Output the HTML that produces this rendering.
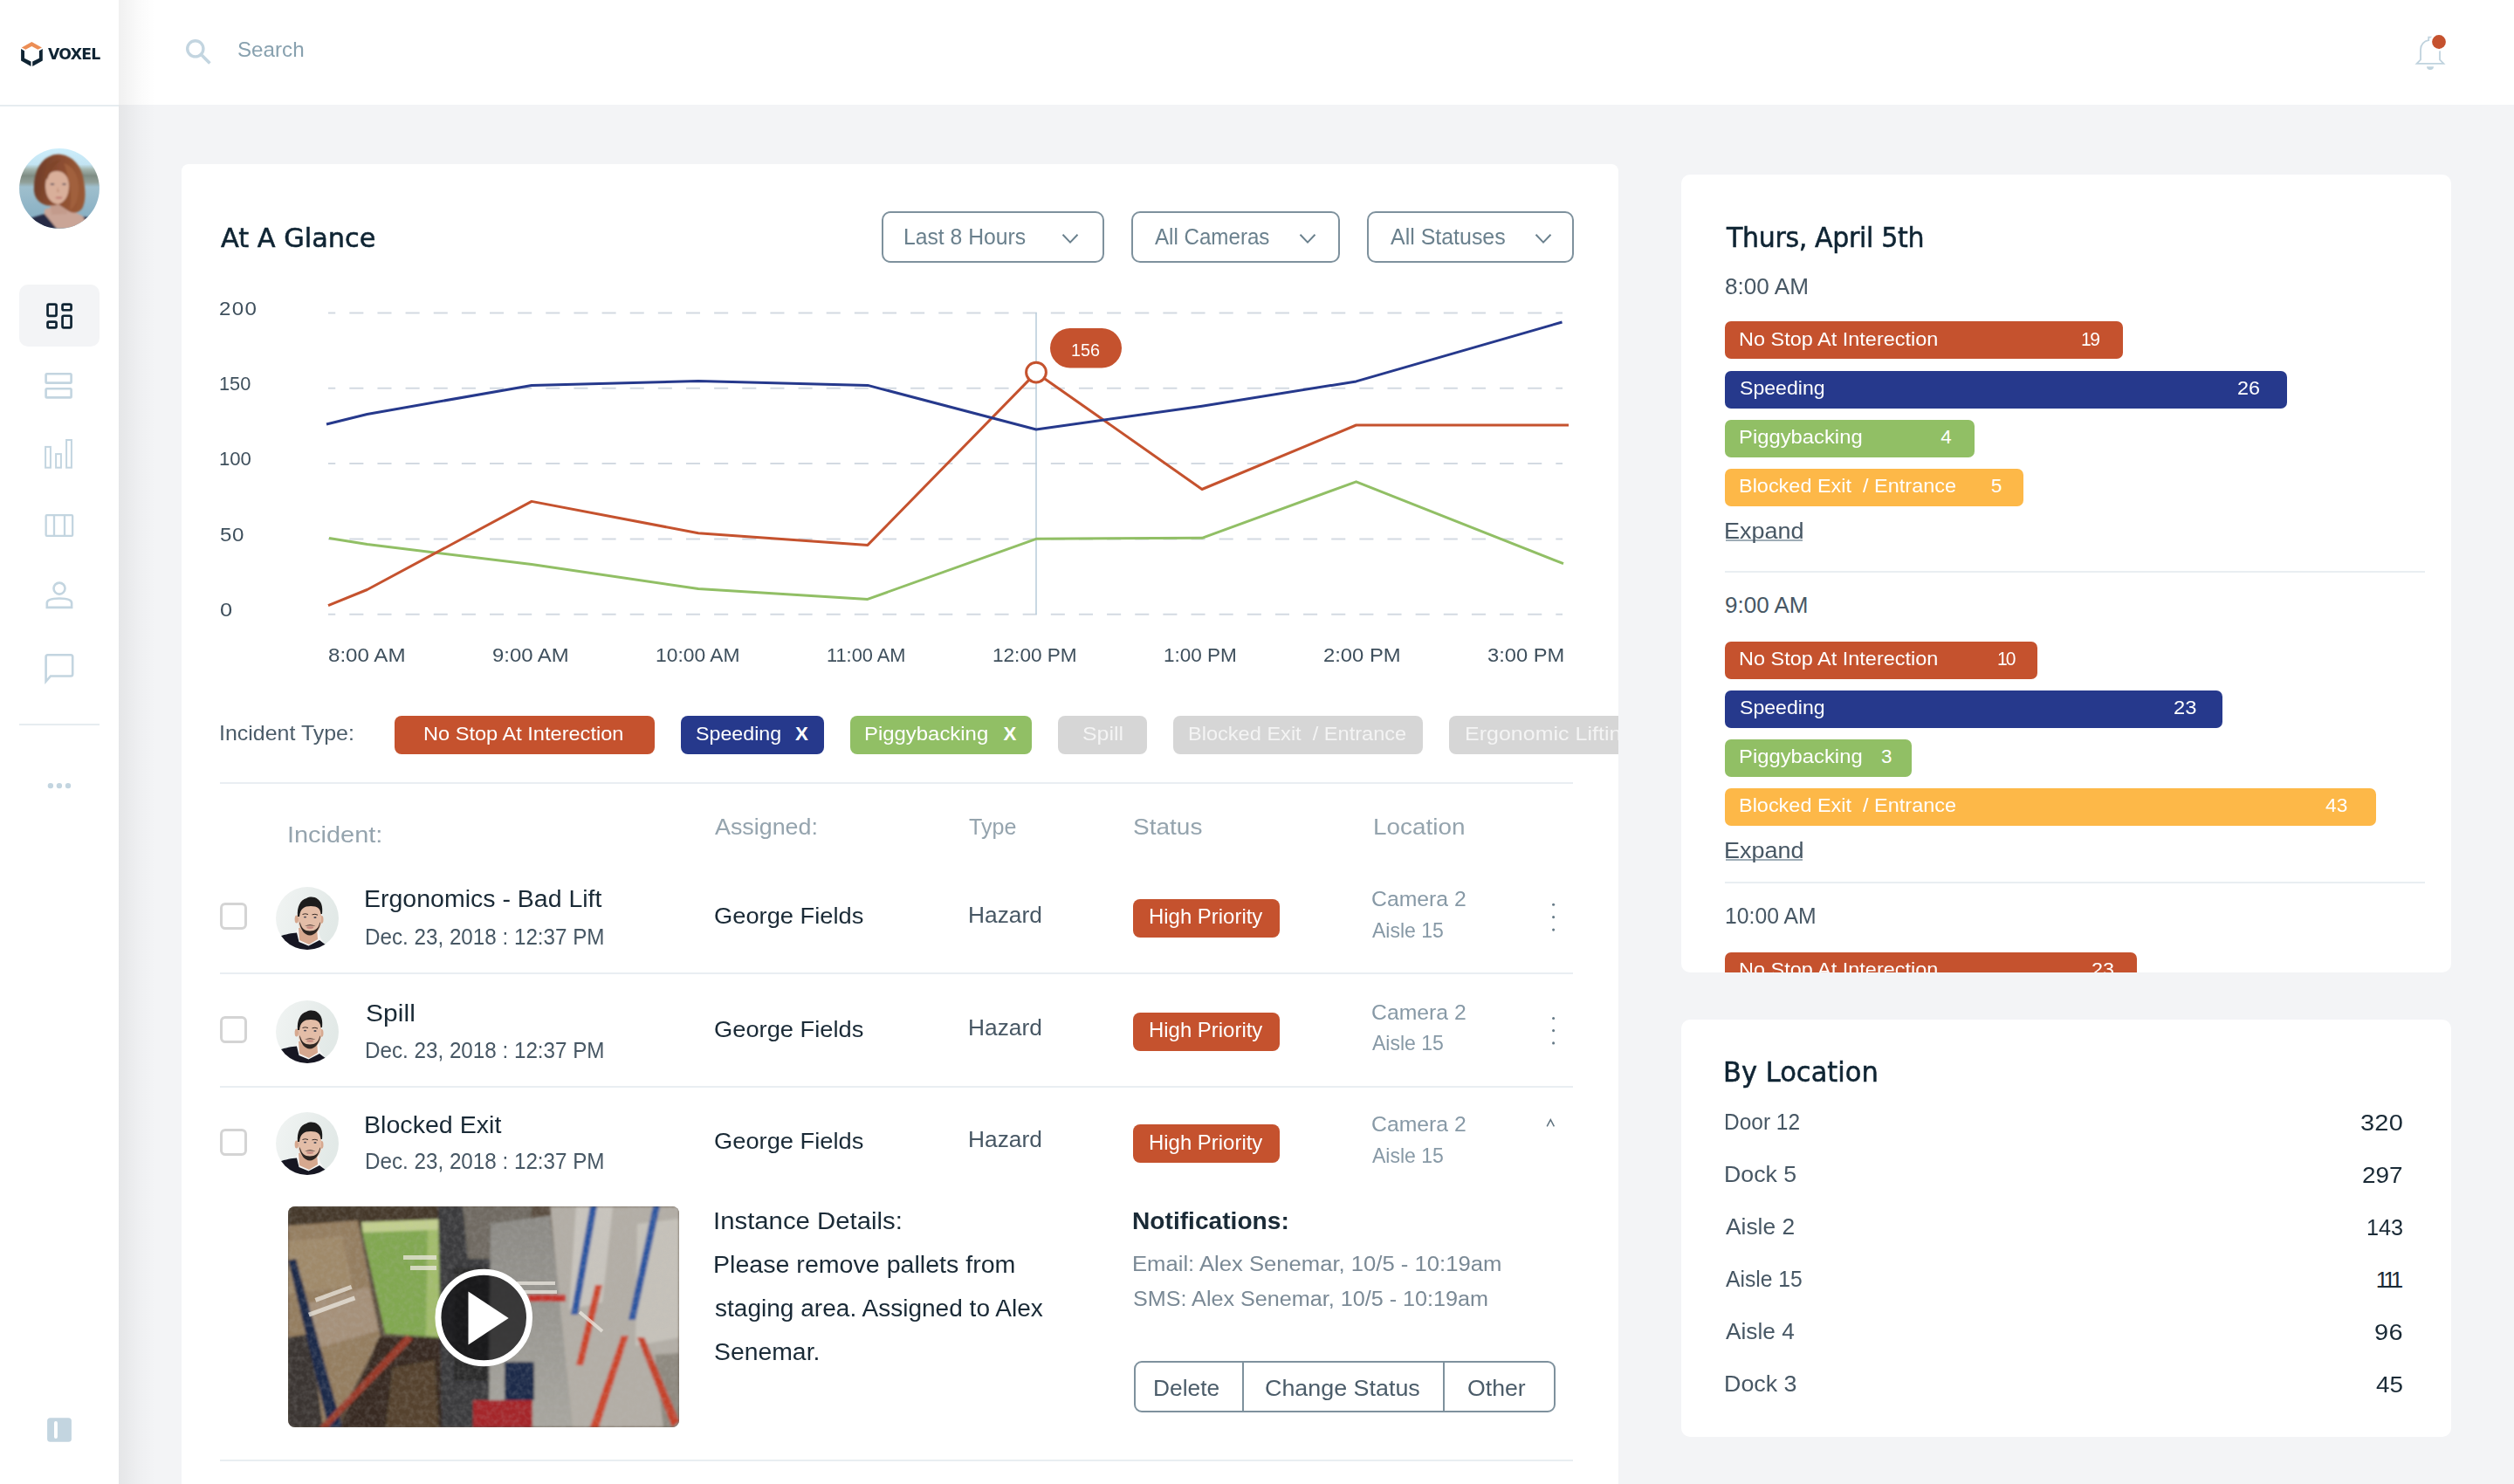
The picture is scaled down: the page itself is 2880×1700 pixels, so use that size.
<!DOCTYPE html>
<html><head><meta charset="utf-8"><title>Voxel Dashboard</title>
<style>
html,body{margin:0;padding:0}
body{width:2880px;height:1700px;overflow:hidden;background:#f3f4f6;position:relative;font-family:"Liberation Sans",Arial,sans-serif}
.a{position:absolute;box-sizing:border-box}
.t{position:absolute;white-space:pre;margin:0}
svg{position:absolute;overflow:visible}
.card{position:absolute;background:#fff}
.dd{position:absolute;box-sizing:border-box;border:2px solid #7e919d;border-radius:10px}
.chipbg{position:absolute;height:44px;top:820px;border-radius:8px}
.hr{position:absolute;height:2px;background:#e9eef2}
.cb{position:absolute;box-sizing:border-box;width:31px;height:31px;border:3px solid #d4d4d4;border-radius:6px;left:252px}
.badge{position:absolute;left:1298px;width:168px;height:44px;border-radius:8px;background:#c5522e}
.bar{position:absolute;left:1976px;height:43px;border-radius:7px}
.r{background:#c5522e}.b{background:#26398c}.g{background:#91bf65}.y{background:#fdb848}.gr{background:#d6d6d6}
</style></head><body>
<!-- header -->
<div class="a" style="left:136px;top:0;width:2744px;height:120px;background:#fff"></div>
<!-- cards -->
<div class="card" style="left:208px;top:188px;width:1646px;height:1600px;border-radius:8px"></div>
<div class="card" style="left:1926px;top:200px;width:882px;height:914px;border-radius:10px"></div>
<div class="card" style="left:1926px;top:1168px;width:882px;height:478px;border-radius:10px"></div>
<!-- sidebar -->
<div class="a" style="left:0;top:0;width:136px;height:1700px;background:#fff"></div>
<div class="a" style="left:136px;top:0;width:42px;height:1700px;background:linear-gradient(to right,rgba(0,0,0,0.06),rgba(0,0,0,0.018) 55%,rgba(0,0,0,0))"></div>
<div class="a" style="left:0;top:120px;width:136px;height:2px;background:#e6ecf0"></div>
<div class="a" style="left:22px;top:326px;width:92px;height:71px;border-radius:10px;background:#f3f4f6"></div>
<div class="a" style="left:22px;top:829px;width:92px;height:2px;background:#e6ecf0"></div>

<!-- dropdowns -->
<div class="dd" style="left:1010px;top:242px;width:255px;height:59px"></div>
<div class="dd" style="left:1296px;top:242px;width:239px;height:59px"></div>
<div class="dd" style="left:1566px;top:242px;width:237px;height:59px"></div>

<!-- chips -->
<div class="chipbg r" style="left:452px;width:298px"></div>
<div class="chipbg b" style="left:780px;width:164px"></div>
<div class="chipbg g" style="left:974px;width:208px"></div>
<div class="chipbg gr" style="left:1212px;width:102px"></div>
<div class="chipbg gr" style="left:1344px;width:286px"></div>
<div class="chipbg gr" style="left:1660px;width:262px"></div>
<div class="hr" style="left:252px;top:896px;width:1550px"></div>

<!-- table -->
<div class="cb" style="top:1034px"></div>
<div class="cb" style="top:1164px"></div>
<div class="cb" style="top:1293px"></div>
<div class="hr" style="left:252px;top:1114px;width:1550px"></div>
<div class="hr" style="left:252px;top:1244px;width:1550px"></div>
<div class="hr" style="left:252px;top:1672px;width:1550px"></div>
<div class="badge" style="top:1030px"></div>
<div class="badge" style="top:1160px"></div>
<div class="badge" style="top:1288px"></div>
<!-- button group -->
<div class="a" style="left:1299px;top:1559px;width:483px;height:59px;border:2px solid #7e919d;border-radius:9px"></div>
<div class="a" style="left:1423px;top:1559px;width:2px;height:59px;background:#7e919d"></div>
<div class="a" style="left:1653px;top:1559px;width:2px;height:59px;background:#7e919d"></div>

<!-- right card bars -->
<div class="bar r" style="top:368px;width:456px"></div>
<div class="bar b" style="top:424.5px;width:644px"></div>
<div class="bar g" style="top:480.5px;width:286px"></div>
<div class="bar y" style="top:536.5px;width:342px"></div>
<div class="a" style="left:1977px;top:618px;width:88px;height:1.5px;background:#9fadb7"></div>
<div class="hr" style="left:1976px;top:654px;width:802px"></div>
<div class="bar r" style="top:734.5px;width:358px"></div>
<div class="bar b" style="top:790.5px;width:570px"></div>
<div class="bar g" style="top:846.5px;width:214px"></div>
<div class="bar y" style="top:902.5px;width:746px"></div>
<div class="a" style="left:1977px;top:984px;width:88px;height:1.5px;background:#9fadb7"></div>
<div class="hr" style="left:1976px;top:1010px;width:802px"></div>
<div class="bar r" style="top:1091px;width:472px"></div>

<!-- avatars -->
<svg style="left:22px;top:170px" width="92" height="92" viewBox="0 0 92 92">
 <defs><clipPath id="ca"><circle cx="46" cy="46" r="45.9"/></clipPath>
 <linearGradient id="sky" x1="0" y1="0" x2="0" y2="1"><stop offset="0" stop-color="#cdeefb"/><stop offset="0.2" stop-color="#c3e4f3"/><stop offset="0.26" stop-color="#a3b5ae"/><stop offset="0.34" stop-color="#7f8c83"/><stop offset="0.42" stop-color="#909f98"/><stop offset="0.48" stop-color="#9fbfcd"/><stop offset="1" stop-color="#80aac0"/></linearGradient>
 <linearGradient id="hair" x1="0" y1="0" x2="1" y2="0.2"><stop offset="0" stop-color="#6a3a27"/><stop offset="0.5" stop-color="#8a4c30"/><stop offset="1" stop-color="#985836"/></linearGradient>
 <filter id="bl" x="-10%" y="-10%" width="120%" height="120%"><feGaussianBlur stdDeviation="1.2"/></filter></defs>
 <g clip-path="url(#ca)">
  <rect width="92" height="92" fill="url(#sky)"/>
  <g filter="url(#bl)">
  <path d="M28,92 L29,70 C35,68 41,66 47,67 C55,68 62,72 72,77 L84,92 Z" fill="#caa597"/>
  <path d="M35,60 L53,60 L55,75 L37,76Z" fill="#c39b8c"/>
  <path d="M28,64 C21,61 16,54 17,44 C17,30 22,16 33,10 C38,7 43,6 48,7 C61,9 70,19 73,32 C76,46 77,60 72,69 C68,74 62,75 57,72 L45,64 C39,66 33,66 28,64Z" fill="url(#hair)"/>
  <path d="M30,43 C30,32 35,26 43,26 C51,26 57,32 57,43 C57,55 51,63 44,64 C36,63 30,55 30,43Z" fill="#d9af9a"/>
  <path d="M51,17 C62,20 68,31 68,45 C68,58 64,67 58,71 C60,58 60,45 56,34 C55,27 53,21 51,17Z" fill="#a1603c"/>
  <path d="M29,28 C33,19 40,14 48,13 C42,18 36,23 32,36Z" fill="#7f4429"/>
  <path d="M6,82 L29,75 L43,92 L4,92 Z" fill="#272b45"/>
  <path d="M73,78 L84,80 L86,92 L81,92 Z" fill="#272b45"/>
  <ellipse cx="38" cy="41" rx="2.4" ry="1.1" fill="#4f4858"/><ellipse cx="51.5" cy="41" rx="2.2" ry="1.1" fill="#4f4858"/>
  <path d="M44,44 L43,50 L46,50Z" fill="#c4957f"/>
  <ellipse cx="45.5" cy="56.5" rx="4" ry="1.3" fill="#c28078"/>
  </g>
 </g>
</svg>
<svg style="left:316px;top:1016px" width="72" height="72" viewBox="0 0 72 72">
 <defs><clipPath id="cm1"><circle cx="36" cy="36" r="36"/></clipPath><filter id="mb1" x="-10%" y="-10%" width="120%" height="120%"><feGaussianBlur stdDeviation="0.55"/></filter>
 <linearGradient id="mg1" x1="0" y1="0" x2="1" y2="0.3"><stop offset="0" stop-color="#f1f4f3"/><stop offset="1" stop-color="#e2e9e7"/></linearGradient></defs>
 <g clip-path="url(#cm1)">
  <rect width="72" height="72" fill="url(#mg1)"/>
  <g filter="url(#mb1)">
  <path d="M21,53 L26,47 L48,47 L51,58 L56,66 L40,72 L22,68Z" fill="#f5f5f4"/>
  <path d="M26,47 L47,47 L48,60 L38,66 L27,61Z" fill="#d6a88f"/>
  <ellipse cx="23.8" cy="37" rx="2.2" ry="4.6" fill="#d6a88f"/>
  <ellipse cx="52.4" cy="37.5" rx="2.1" ry="4.4" fill="#d6a88f"/>
  <path d="M26,27 C26,20 31,18 39,18 C47,18 52,21 52,28 L52,40 C52,48 46,55 39,55 C32,55 26,48 26,40Z" fill="#e3bda7"/>
  <path d="M27,40 C28,49 33,55.5 39,55.5 C45,55.5 50,49 51.2,40 L50,42 C49,47 45,50.5 39,50.5 C33,50.5 29.5,47 28.2,42Z" fill="#2e2522"/>
  <path d="M33,45 Q39,41.5 45.5,45 Q39,43.6 33,45Z" fill="#3a2b27"/>
  <ellipse cx="39.2" cy="46.6" rx="4" ry="1.4" fill="#c88c82"/>
  <ellipse cx="33.5" cy="34.6" rx="1.6" ry="0.9" fill="#4b4a56"/><ellipse cx="45" cy="35" rx="1.6" ry="0.9" fill="#4b4a56"/>
  <path d="M30.5,31.5 Q33.5,30 37,31.5" stroke="#3a2c26" stroke-width="1" fill="none"/><path d="M41.5,31.8 Q45,30.5 48,32.2" stroke="#3a2c26" stroke-width="1" fill="none"/>
  <path d="M25,34 C24,23 28,15 35,13 C39,11 44,11 48,14 C52,17 54,22 53,31 L51.5,31 C51,25 48,22 40,22 C32,22 28,25 27,34Z" fill="#1d1a1a"/>
  <path d="M3,57 C12,54 18,53 24,52.5 L26.5,63 L37.5,67.5 L50,61 L56,65.5 L64,69 L64,72 L3,72Z" fill="#121824"/>
  </g>
 </g>
</svg><svg style="left:316px;top:1146px" width="72" height="72" viewBox="0 0 72 72">
 <defs><clipPath id="cm2"><circle cx="36" cy="36" r="36"/></clipPath><filter id="mb2" x="-10%" y="-10%" width="120%" height="120%"><feGaussianBlur stdDeviation="0.55"/></filter>
 <linearGradient id="mg2" x1="0" y1="0" x2="1" y2="0.3"><stop offset="0" stop-color="#f1f4f3"/><stop offset="1" stop-color="#e2e9e7"/></linearGradient></defs>
 <g clip-path="url(#cm2)">
  <rect width="72" height="72" fill="url(#mg2)"/>
  <g filter="url(#mb2)">
  <path d="M21,53 L26,47 L48,47 L51,58 L56,66 L40,72 L22,68Z" fill="#f5f5f4"/>
  <path d="M26,47 L47,47 L48,60 L38,66 L27,61Z" fill="#d6a88f"/>
  <ellipse cx="23.8" cy="37" rx="2.2" ry="4.6" fill="#d6a88f"/>
  <ellipse cx="52.4" cy="37.5" rx="2.1" ry="4.4" fill="#d6a88f"/>
  <path d="M26,27 C26,20 31,18 39,18 C47,18 52,21 52,28 L52,40 C52,48 46,55 39,55 C32,55 26,48 26,40Z" fill="#e3bda7"/>
  <path d="M27,40 C28,49 33,55.5 39,55.5 C45,55.5 50,49 51.2,40 L50,42 C49,47 45,50.5 39,50.5 C33,50.5 29.5,47 28.2,42Z" fill="#2e2522"/>
  <path d="M33,45 Q39,41.5 45.5,45 Q39,43.6 33,45Z" fill="#3a2b27"/>
  <ellipse cx="39.2" cy="46.6" rx="4" ry="1.4" fill="#c88c82"/>
  <ellipse cx="33.5" cy="34.6" rx="1.6" ry="0.9" fill="#4b4a56"/><ellipse cx="45" cy="35" rx="1.6" ry="0.9" fill="#4b4a56"/>
  <path d="M30.5,31.5 Q33.5,30 37,31.5" stroke="#3a2c26" stroke-width="1" fill="none"/><path d="M41.5,31.8 Q45,30.5 48,32.2" stroke="#3a2c26" stroke-width="1" fill="none"/>
  <path d="M25,34 C24,23 28,15 35,13 C39,11 44,11 48,14 C52,17 54,22 53,31 L51.5,31 C51,25 48,22 40,22 C32,22 28,25 27,34Z" fill="#1d1a1a"/>
  <path d="M3,57 C12,54 18,53 24,52.5 L26.5,63 L37.5,67.5 L50,61 L56,65.5 L64,69 L64,72 L3,72Z" fill="#121824"/>
  </g>
 </g>
</svg><svg style="left:316px;top:1274px" width="72" height="72" viewBox="0 0 72 72">
 <defs><clipPath id="cm3"><circle cx="36" cy="36" r="36"/></clipPath><filter id="mb3" x="-10%" y="-10%" width="120%" height="120%"><feGaussianBlur stdDeviation="0.55"/></filter>
 <linearGradient id="mg3" x1="0" y1="0" x2="1" y2="0.3"><stop offset="0" stop-color="#f1f4f3"/><stop offset="1" stop-color="#e2e9e7"/></linearGradient></defs>
 <g clip-path="url(#cm3)">
  <rect width="72" height="72" fill="url(#mg3)"/>
  <g filter="url(#mb3)">
  <path d="M21,53 L26,47 L48,47 L51,58 L56,66 L40,72 L22,68Z" fill="#f5f5f4"/>
  <path d="M26,47 L47,47 L48,60 L38,66 L27,61Z" fill="#d6a88f"/>
  <ellipse cx="23.8" cy="37" rx="2.2" ry="4.6" fill="#d6a88f"/>
  <ellipse cx="52.4" cy="37.5" rx="2.1" ry="4.4" fill="#d6a88f"/>
  <path d="M26,27 C26,20 31,18 39,18 C47,18 52,21 52,28 L52,40 C52,48 46,55 39,55 C32,55 26,48 26,40Z" fill="#e3bda7"/>
  <path d="M27,40 C28,49 33,55.5 39,55.5 C45,55.5 50,49 51.2,40 L50,42 C49,47 45,50.5 39,50.5 C33,50.5 29.5,47 28.2,42Z" fill="#2e2522"/>
  <path d="M33,45 Q39,41.5 45.5,45 Q39,43.6 33,45Z" fill="#3a2b27"/>
  <ellipse cx="39.2" cy="46.6" rx="4" ry="1.4" fill="#c88c82"/>
  <ellipse cx="33.5" cy="34.6" rx="1.6" ry="0.9" fill="#4b4a56"/><ellipse cx="45" cy="35" rx="1.6" ry="0.9" fill="#4b4a56"/>
  <path d="M30.5,31.5 Q33.5,30 37,31.5" stroke="#3a2c26" stroke-width="1" fill="none"/><path d="M41.5,31.8 Q45,30.5 48,32.2" stroke="#3a2c26" stroke-width="1" fill="none"/>
  <path d="M25,34 C24,23 28,15 35,13 C39,11 44,11 48,14 C52,17 54,22 53,31 L51.5,31 C51,25 48,22 40,22 C32,22 28,25 27,34Z" fill="#1d1a1a"/>
  <path d="M3,57 C12,54 18,53 24,52.5 L26.5,63 L37.5,67.5 L50,61 L56,65.5 L64,69 L64,72 L3,72Z" fill="#121824"/>
  </g>
 </g>
</svg>

<!-- thumbnail -->
<svg style="left:330px;top:1382px" width="448" height="253" viewBox="0 0 448 253">
 <defs><clipPath id="ct"><rect width="448" height="253" rx="8"/></clipPath>
 <filter id="tb" x="-5%" y="-5%" width="110%" height="110%"><feGaussianBlur stdDeviation="1.4"/></filter>
 <filter id="nz" x="0" y="0" width="100%" height="100%"><feTurbulence type="fractalNoise" baseFrequency="0.18" numOctaves="2" seed="3"/><feColorMatrix type="matrix" values="0 0 0 0 0.5  0 0 0 0 0.5  0 0 0 0 0.5  0 0 0 1.6 -0.55"/></filter>
 <linearGradient id="flr" x1="0" y1="0" x2="0" y2="1"><stop offset="0" stop-color="#8c8a85"/><stop offset="1" stop-color="#a8a69f"/></linearGradient></defs>
 <g clip-path="url(#ct)">
  <rect width="448" height="253" fill="#5a4d40"/>
  <g filter="url(#tb)">
  <rect x="0" y="0" width="200" height="26" fill="#44372c"/>
  <path d="M0,22 L80,16 L106,150 L52,253 L0,253Z" fill="#957e60"/>
  <path d="M0,40 L62,34 L74,92 L0,100Z" fill="#a08a6b"/>
  <path d="M18,112 L92,92 L104,142 L28,164Z" fill="#a6917a"/>
  <path d="M0,150 L26,146 L40,253 L0,253Z" fill="#3a3430"/>
  <path d="M0,62 L9,60 L62,253 L46,253Z" fill="#1e2a4a"/>
  <path d="M84,26 L188,19 L172,150 L111,146Z" fill="#82a851"/>
  <path d="M160,22 L190,19 L174,150 L158,148Z" fill="#a3bd6c"/>
  <path d="M84,18 L190,14 L189,26 L86,30Z" fill="#c3d08f"/>
  <path d="M104,150 L176,150 L182,253 L60,253Z" fill="#382b21"/>
  <path d="M120,185 L168,176 L172,253 L112,253Z" fill="#54432f"/>
  <path d="M36,253 L136,147 L143,152 L46,253Z" fill="#9a3a2a"/>
  <path d="M172,0 L234,0 L234,253 L176,253Z" fill="#3a3a3c"/>
  <path d="M190,70 L232,70 L232,200 L190,200Z" fill="#2a2a2c"/>
  <path d="M200,0 L280,0 L270,60 L206,60Z" fill="#6f6a62"/>
  <path d="M232,20 L300,10 L330,253 L230,253Z" fill="url(#flr)"/>
  <path d="M300,0 L448,0 L448,253 L326,253Z" fill="#b3aea6"/>
  <path d="M330,0 L372,0 L360,110 L322,118Z" fill="#c9c5be"/>
  <path d="M400,20 L448,14 L448,150 L398,160Z" fill="#c6c2ba"/>
  <path d="M420,170 L448,168 L448,253 L430,253Z" fill="#8f8a80"/>
  <path d="M346,0 L354,0 L332,124 L324,124Z" fill="#2c55a0"/>
  <path d="M418,0 L426,0 L398,130 L390,130Z" fill="#2c55a0"/>
  <path d="M352,90 L360,90 L338,182 L330,182Z" fill="#cc452c"/>
  <path d="M382,148 L390,148 L356,253 L346,253Z" fill="#cc452c"/>
  <path d="M400,150 L408,150 L448,246 L440,253Z" fill="#c4422c"/>
  <path d="M275,101 L318,101 L318,109 L275,109Z" fill="#c4302a"/>
  <rect x="212" y="222" width="68" height="31" fill="#a5272b"/>
  <rect x="248" y="178" width="34" height="44" fill="#1f2b4a"/>
  </g>
  <rect width="448" height="253" filter="url(#nz)" opacity="0.22"/>
  <g fill="#ece8e0" opacity="0.75"><rect x="132" y="56" width="38" height="5"/><rect x="140" y="68" width="30" height="5"/><rect x="262" y="86" width="44" height="4"/><rect x="268" y="96" width="40" height="4"/><rect x="30" y="98" width="44" height="5" transform="rotate(-20 50 100)"/><rect x="22" y="112" width="56" height="5" transform="rotate(-20 50 114)"/><rect x="330" y="130" width="34" height="4" transform="rotate(40 347 132)"/></g>
  <circle cx="224.2" cy="127.5" r="52.5" fill="rgba(20,20,22,0.72)"/>
  <circle cx="224.2" cy="127.5" r="52.3" fill="none" stroke="#fff" stroke-width="7"/>
  <path d="M206.5,97.6 L252.7,128 L206.5,158.4Z" fill="#fff"/>
 </g>
</svg>

<!-- vector overlay -->
<svg style="left:0;top:0" width="2880" height="1700" viewBox="0 0 2880 1700">
 <!-- logo -->
 <polygon points="24.75,54.4 36.35,48 47.95,54.4 43.35,56.85 36.35,53.1 29.35,56.85" fill="#ec8e55"/>
 <polygon points="24.1,56 28,58.3 28,66.7 35.5,70.5 35.5,76 24.1,69.6" fill="#0f2433"/>
 <polygon points="48.8,56 44.9,58.3 44.9,66.7 37.2,70.5 37.2,76 48.8,69.6" fill="#0f2433"/>
 <!-- search -->
 <circle cx="223.8" cy="55.8" r="9.1" fill="none" stroke="#c3d5e0" stroke-width="3.4"/>
 <line x1="231.2" y1="63.2" x2="240.4" y2="72.4" stroke="#c3d5e0" stroke-width="3.6"/>
 <!-- bell -->
 <path d="M2773,68.4 V57 C2773,51 2777,47 2782.2,46.2 V42.6 H2785.8 V46.2 C2791,47 2795,51 2795,57 V68.4 L2799.4,72.9 H2768.6 Z" fill="none" stroke="#c0d3de" stroke-width="1.8" stroke-linejoin="miter"/>
 <path d="M2780,76.2 H2788 A4,3.7 0 0 1 2780,76.2 Z" fill="#c0d3de"/>
 <circle cx="2794" cy="48" r="10.4" fill="#fff"/>
 <circle cx="2794" cy="48" r="7.9" fill="#c5522e"/>
 <!-- sidebar icons -->
 <g fill="none" stroke="#0f2433" stroke-width="2.7">
  <rect x="54.55" y="348.65" width="10" height="13.2" rx="1.5"/>
  <rect x="71.55" y="348.65" width="10" height="6.6" rx="1.5"/>
  <rect x="54.55" y="368.65" width="10" height="6.7" rx="1.5"/>
  <rect x="71.55" y="361.75" width="10" height="13.6" rx="1.5"/>
 </g>
 <g fill="none" stroke="#c3d5e0" stroke-width="2.6">
  <rect x="52.6" y="428.3" width="29" height="10.3" rx="1.2"/>
  <rect x="52.6" y="445.3" width="29" height="10.1" rx="1.2"/>
 </g>
 <g fill="none" stroke="#c3d5e0" stroke-width="2">
  <rect x="52.1" y="511.9" width="5.8" height="23.8"/>
  <rect x="64.1" y="520.1" width="5.8" height="15.6"/>
  <rect x="76.1" y="504" width="5.8" height="31.7"/>
 </g>
 <g fill="none" stroke="#c3d5e0" stroke-width="2.3">
  <rect x="52.65" y="590.05" width="30.5" height="23.8" rx="1.2"/>
  <line x1="62" y1="590" x2="62" y2="614"/>
  <line x1="74" y1="590" x2="74" y2="614"/>
 </g>
 <g fill="none" stroke="#c3d5e0" stroke-width="2.6">
  <circle cx="68" cy="674.1" r="6.5"/>
  <path d="M53.8,695.9 V690.8 Q53.8,685.5 68,685.5 Q82.1,685.5 82.1,690.8 V695.9 Z"/>
  <path d="M52.6,780.5 V752.5 Q52.6,750.3 54.8,750.3 H81 Q83.2,750.3 83.2,752.5 V772.3 Q83.2,774.5 81,774.5 H58 Z"/>
 </g>
 <g fill="#c3d5e0">
  <circle cx="57.9" cy="900.1" r="3.2"/><circle cx="67.9" cy="900.1" r="3.2"/><circle cx="78" cy="900.1" r="3.2"/>
  <rect x="54.1" y="1624.2" width="27.8" height="27.6" rx="3.5"/>
 </g>
 <rect x="62" y="1628" width="3.9" height="20" rx="1.95" fill="#fff"/>
 <!-- dropdown chevrons -->
 <g fill="none" stroke="#6a808d" stroke-width="2">
  <polyline points="1217.5,268.8 1226,277.6 1234.5,268.8"/>
  <polyline points="1489.5,268.8 1498,277.6 1506.5,268.8"/>
  <polyline points="1759.5,268.8 1768,277.6 1776.5,268.8"/>
 </g>
 <!-- chart grid -->
 <g stroke="#d3dae2" stroke-width="2" stroke-dasharray="16.07 16.07" stroke-dashoffset="7.84">
  <line x1="376" x2="1790" y1="358.5" y2="358.5"/>
  <line x1="376" x2="1790" y1="444.8" y2="444.8"/>
  <line x1="376" x2="1790" y1="531.1" y2="531.1"/>
  <line x1="376" x2="1790" y1="617.5" y2="617.5"/>
  <line x1="376" x2="1790" y1="703.8" y2="703.8"/>
 </g>
 <line x1="1187" x2="1187" y1="358" y2="704" stroke="#bccfdc" stroke-width="1.6"/>
 <g fill="none" stroke-width="3" stroke-linejoin="round">
  <polyline stroke="#91bf65" points="377,616.4 420.6,623.6 609,646.6 800,674.6 994,686.4 1187,617.3 1377,616.3 1553.6,551.8 1791,645.7"/>
  <polyline stroke="#c5522e" points="376,693.7 420.6,675.5 609,574.4 800,610.7 994,624.4 1187,426.9 1377,560.5 1553.6,487 1797,487"/>
  <polyline stroke="#26398c" points="374,486 420.6,474.5 609,441.4 800,436.6 994,441.4 1187,492 1377,465.3 1553.6,436.9 1789.5,369"/>
 </g>
 <circle cx="1187" cy="426.6" r="11.4" fill="#fff" stroke="#c5522e" stroke-width="3"/>
 <rect x="1203" y="376" width="82" height="45.5" rx="22.75" fill="#c5522e"/>
 <!-- kebab + caret -->
 <g fill="#667a87">
  <circle cx="1779.6" cy="1036.3" r="1.55"/><circle cx="1779.6" cy="1050.6" r="1.55"/><circle cx="1779.6" cy="1065.1" r="1.55"/>
  <circle cx="1779.6" cy="1166.5" r="1.55"/><circle cx="1779.6" cy="1180.6" r="1.55"/><circle cx="1779.6" cy="1194.9" r="1.55"/>
 </g>
 <polyline points="1772.2,1290.3 1776.3,1282.6 1780.4,1290.3" fill="none" stroke="#5f727e" stroke-width="1.5"/>
</svg>
<div class="t " style="font-family:'DejaVu Sans', 'Liberation Sans', sans-serif;left:55.20px;top:53.15px;font-size:18.38px;line-height:18.38px;color:#0f2433;letter-spacing:-0.788px;font-weight:700;transform:scaleX(0.9400);transform-origin:0 0;">VOXEL</div>
<div class="t " style="left:272.24px;top:45.71px;font-size:23.26px;line-height:23.26px;color:#88a1af;transform:scaleX(1.0397);transform-origin:0 0;">Search</div>
<div class="t " style="font-family:'DejaVu Sans', 'Liberation Sans', sans-serif;left:253.30px;top:258.22px;font-size:30.59px;line-height:30.59px;color:#0f2433;transform:scaleX(0.9931);transform-origin:0 0;-webkit-text-stroke:0.55px #0f2433;">At A Glance</div>
<div class="t " style="left:1035.07px;top:259.86px;font-size:24.85px;line-height:24.85px;color:#6a808d;transform:scaleX(0.9950);transform-origin:0 0;">Last 8 Hours</div>
<div class="t " style="left:1322.60px;top:259.86px;font-size:24.85px;line-height:24.85px;color:#6a808d;transform:scaleX(0.9712);transform-origin:0 0;">All Cameras</div>
<div class="t " style="left:1593.00px;top:259.86px;font-size:24.85px;line-height:24.85px;color:#6a808d;transform:scaleX(1.0041);transform-origin:0 0;">All Statuses</div>
<div class="t " style="left:251.47px;top:343.79px;font-size:21.51px;line-height:21.51px;color:#3e4f5c;letter-spacing:1.264px;transform:scaleX(1.1200);transform-origin:0 0;">200</div>
<div class="t " style="left:251.24px;top:430.09px;font-size:21.51px;line-height:21.51px;color:#3e4f5c;transform:scaleX(1.0114);transform-origin:0 0;">150</div>
<div class="t " style="left:251.22px;top:516.39px;font-size:21.51px;line-height:21.51px;color:#3e4f5c;transform:scaleX(1.0291);transform-origin:0 0;">100</div>
<div class="t " style="left:251.85px;top:602.79px;font-size:21.51px;line-height:21.51px;color:#3e4f5c;letter-spacing:0.584px;transform:scaleX(1.1200);transform-origin:0 0;">50</div>
<div class="t " style="left:251.81px;top:689.09px;font-size:21.51px;line-height:21.51px;color:#3e4f5c;transform:scaleX(1.1808);transform-origin:0 0;">0</div>
<div class="t " style="left:375.95px;top:740.10px;font-size:22.09px;line-height:22.09px;color:#3e4f5c;transform:scaleX(1.0924);transform-origin:0 0;">8:00 AM</div>
<div class="t " style="left:563.88px;top:740.10px;font-size:22.09px;line-height:22.09px;color:#3e4f5c;transform:scaleX(1.0821);transform-origin:0 0;">9:00 AM</div>
<div class="t " style="left:751.37px;top:740.10px;font-size:22.09px;line-height:22.09px;color:#3e4f5c;transform:scaleX(1.0339);transform-origin:0 0;">10:00 AM</div>
<div class="t " style="left:946.94px;top:740.10px;font-size:22.09px;line-height:22.09px;color:#3e4f5c;transform:scaleX(0.9872);transform-origin:0 0;">11:00 AM</div>
<div class="t " style="left:1137.29px;top:740.10px;font-size:22.09px;line-height:22.09px;color:#3e4f5c;transform:scaleX(1.0230);transform-origin:0 0;">12:00 PM</div>
<div class="t " style="left:1332.99px;top:740.10px;font-size:22.09px;line-height:22.09px;color:#3e4f5c;transform:scaleX(1.0201);transform-origin:0 0;">1:00 PM</div>
<div class="t " style="left:1515.88px;top:740.10px;font-size:22.09px;line-height:22.09px;color:#3e4f5c;transform:scaleX(1.0783);transform-origin:0 0;">2:00 PM</div>
<div class="t " style="left:1704.26px;top:740.10px;font-size:22.09px;line-height:22.09px;color:#3e4f5c;transform:scaleX(1.0737);transform-origin:0 0;">3:00 PM</div>
<div class="t " style="left:1226.76px;top:391.01px;font-size:20.78px;line-height:20.78px;color:#ffffff;transform:scaleX(0.9528);transform-origin:0 0;">156</div>
<div class="t " style="left:250.55px;top:827.78px;font-size:24.71px;line-height:24.71px;color:#4b5c69;transform:scaleX(1.0102);transform-origin:0 0;">Incident Type:</div>
<div class="t chip" style="left:485.16px;top:829.88px;font-size:22.24px;line-height:22.24px;color:#ffffff;transform:scaleX(1.0607);transform-origin:0 0;">No Stop At Interection</div>
<div class="t chip" style="left:796.97px;top:829.88px;font-size:22.24px;line-height:22.24px;color:#ffffff;transform:scaleX(1.0441);transform-origin:0 0;">Speeding</div>
<div class="t chip" style="left:911.00px;top:829.88px;font-size:22.24px;line-height:22.24px;color:#ffffff;font-weight:700;">X</div>
<div class="t chip" style="left:990.33px;top:829.88px;font-size:22.24px;line-height:22.24px;color:#ffffff;transform:scaleX(1.0751);transform-origin:0 0;">Piggybacking</div>
<div class="t chip" style="left:1149.60px;top:829.88px;font-size:22.24px;line-height:22.24px;color:#ffffff;font-weight:700;">X</div>
<div class="t chip" style="left:1239.52px;top:829.88px;font-size:22.24px;line-height:22.24px;color:#f4f4f4;letter-spacing:0.012px;transform:scaleX(1.1200);transform-origin:0 0;">Spill</div>
<div class="t chip" style="left:1361.46px;top:829.88px;font-size:22.24px;line-height:22.24px;color:#f4f4f4;transform:scaleX(1.0598);transform-origin:0 0;">Blocked Exit  / Entrance</div>
<div class="t chip" style="left:1677.85px;top:829.88px;font-size:22.24px;line-height:22.24px;color:#f4f4f4;letter-spacing:0.051px;transform:scaleX(1.1200);transform-origin:0 0;">Ergonomic Lifting</div>
<div class="t " style="left:328.74px;top:944.30px;font-size:25.87px;line-height:25.87px;color:#95a4ae;transform:scaleX(1.1183);transform-origin:0 0;">Incident:</div>
<div class="t " style="left:819.00px;top:934.70px;font-size:25.87px;line-height:25.87px;color:#95a4ae;transform:scaleX(1.0379);transform-origin:0 0;">Assigned:</div>
<div class="t " style="left:1109.81px;top:934.50px;font-size:25.87px;line-height:25.87px;color:#95a4ae;transform:scaleX(0.9700);transform-origin:0 0;">Type</div>
<div class="t " style="left:1298.42px;top:934.50px;font-size:25.87px;line-height:25.87px;color:#95a4ae;transform:scaleX(1.0832);transform-origin:0 0;">Status</div>
<div class="t " style="left:1572.52px;top:934.50px;font-size:25.87px;line-height:25.87px;color:#95a4ae;transform:scaleX(1.0780);transform-origin:0 0;">Location</div>
<div class="t " style="left:417.37px;top:1017.36px;font-size:26.74px;line-height:26.74px;color:#1a2a36;transform:scaleX(1.0660);transform-origin:0 0;">Ergonomics - Bad Lift</div>
<div class="t " style="left:417.71px;top:1060.77px;font-size:25.44px;line-height:25.44px;color:#475764;transform:scaleX(0.9517);transform-origin:0 0;">Dec. 23, 2018 : 12:37 PM</div>
<div class="t " style="left:817.72px;top:1035.81px;font-size:26.45px;line-height:26.45px;color:#1a2a36;transform:scaleX(1.0318);transform-origin:0 0;">George Fields</div>
<div class="t " style="left:1109.14px;top:1034.55px;font-size:26.16px;line-height:26.16px;color:#475764;transform:scaleX(1.0071);transform-origin:0 0;">Hazard</div>
<div class="t " style="left:1316.13px;top:1039.31px;font-size:23.26px;line-height:23.26px;color:#ffffff;transform:scaleX(1.0294);transform-origin:0 0;">High Priority</div>
<div class="t " style="left:1571.24px;top:1018.18px;font-size:24.13px;line-height:24.13px;color:#8799a6;transform:scaleX(1.0267);transform-origin:0 0;">Camera 2</div>
<div class="t " style="left:1572.40px;top:1054.08px;font-size:24.13px;line-height:24.13px;color:#8799a6;transform:scaleX(0.9545);transform-origin:0 0;">Aisle 15</div>
<div class="t " style="left:418.66px;top:1147.86px;font-size:26.74px;line-height:26.74px;color:#1a2a36;letter-spacing:0.091px;transform:scaleX(1.1200);transform-origin:0 0;">Spill</div>
<div class="t " style="left:417.71px;top:1190.97px;font-size:25.44px;line-height:25.44px;color:#475764;transform:scaleX(0.9517);transform-origin:0 0;">Dec. 23, 2018 : 12:37 PM</div>
<div class="t " style="left:817.72px;top:1165.61px;font-size:26.45px;line-height:26.45px;color:#1a2a36;transform:scaleX(1.0318);transform-origin:0 0;">George Fields</div>
<div class="t " style="left:1109.14px;top:1163.95px;font-size:26.16px;line-height:26.16px;color:#475764;transform:scaleX(1.0071);transform-origin:0 0;">Hazard</div>
<div class="t " style="left:1316.13px;top:1169.31px;font-size:23.26px;line-height:23.26px;color:#ffffff;transform:scaleX(1.0294);transform-origin:0 0;">High Priority</div>
<div class="t " style="left:1571.24px;top:1147.68px;font-size:24.13px;line-height:24.13px;color:#8799a6;transform:scaleX(1.0267);transform-origin:0 0;">Camera 2</div>
<div class="t " style="left:1572.40px;top:1183.38px;font-size:24.13px;line-height:24.13px;color:#8799a6;transform:scaleX(0.9545);transform-origin:0 0;">Aisle 15</div>
<div class="t " style="left:417.36px;top:1275.76px;font-size:26.74px;line-height:26.74px;color:#1a2a36;transform:scaleX(1.0699);transform-origin:0 0;">Blocked Exit</div>
<div class="t " style="left:417.71px;top:1318.47px;font-size:25.44px;line-height:25.44px;color:#475764;transform:scaleX(0.9517);transform-origin:0 0;">Dec. 23, 2018 : 12:37 PM</div>
<div class="t " style="left:817.72px;top:1293.61px;font-size:26.45px;line-height:26.45px;color:#1a2a36;transform:scaleX(1.0318);transform-origin:0 0;">George Fields</div>
<div class="t " style="left:1109.14px;top:1292.35px;font-size:26.16px;line-height:26.16px;color:#475764;transform:scaleX(1.0071);transform-origin:0 0;">Hazard</div>
<div class="t " style="left:1316.13px;top:1297.51px;font-size:23.26px;line-height:23.26px;color:#ffffff;transform:scaleX(1.0294);transform-origin:0 0;">High Priority</div>
<div class="t " style="left:1571.24px;top:1275.78px;font-size:24.13px;line-height:24.13px;color:#8799a6;transform:scaleX(1.0267);transform-origin:0 0;">Camera 2</div>
<div class="t " style="left:1572.40px;top:1311.58px;font-size:24.13px;line-height:24.13px;color:#8799a6;transform:scaleX(0.9545);transform-origin:0 0;">Aisle 15</div>
<div class="t " style="left:816.71px;top:1386.16px;font-size:26.74px;line-height:26.74px;color:#1a2a36;transform:scaleX(1.0973);transform-origin:0 0;">Instance Details:</div>
<div class="t " style="left:816.77px;top:1435.86px;font-size:26.74px;line-height:26.74px;color:#1a2a36;transform:scaleX(1.0694);transform-origin:0 0;">Please remove pallets from</div>
<div class="t " style="left:818.56px;top:1485.66px;font-size:26.74px;line-height:26.74px;color:#1a2a36;transform:scaleX(1.0492);transform-origin:0 0;">staging area. Assigned to Alex</div>
<div class="t " style="left:818.11px;top:1535.86px;font-size:26.74px;line-height:26.74px;color:#1a2a36;transform:scaleX(1.0610);transform-origin:0 0;">Senemar.</div>
<div class="t " style="left:1297.04px;top:1386.16px;font-size:26.74px;line-height:26.74px;color:#1a2a36;font-weight:700;transform:scaleX(1.0529);transform-origin:0 0;">Notifications:</div>
<div class="t " style="left:1296.80px;top:1435.73px;font-size:24.42px;line-height:24.42px;color:#7a8995;transform:scaleX(1.0506);transform-origin:0 0;">Email: Alex Senemar, 10/5 - 10:19am</div>
<div class="t " style="left:1298.01px;top:1475.83px;font-size:24.42px;line-height:24.42px;color:#7a8995;transform:scaleX(1.0309);transform-origin:0 0;">SMS: Alex Senemar, 10/5 - 10:19am</div>
<div class="t " style="left:1320.74px;top:1576.61px;font-size:26.45px;line-height:26.45px;color:#4b5c69;transform:scaleX(0.9955);transform-origin:0 0;">Delete</div>
<div class="t " style="left:1449.34px;top:1576.61px;font-size:26.45px;line-height:26.45px;color:#4b5c69;transform:scaleX(1.0165);transform-origin:0 0;">Change Status</div>
<div class="t " style="left:1681.25px;top:1576.61px;font-size:26.45px;line-height:26.45px;color:#4b5c69;transform:scaleX(1.0079);transform-origin:0 0;">Other</div>
<div class="t " style="font-family:'DejaVu Sans', 'Liberation Sans', sans-serif;left:1977.77px;top:256.76px;font-size:31.96px;line-height:31.96px;color:#0f2433;letter-spacing:-0.370px;transform:scaleX(0.9400);transform-origin:0 0;-webkit-text-stroke:0.55px #0f2433;">Thurs, April 5th</div>
<div class="t " style="left:1976.48px;top:314.78px;font-size:26.02px;line-height:26.02px;color:#475764;transform:scaleX(1.0050);transform-origin:0 0;">8:00 AM</div>
<div class="t " style="left:1976.08px;top:680.28px;font-size:26.02px;line-height:26.02px;color:#475764;">9:00 AM</div>
<div class="t rc" style="left:1975.75px;top:1036.48px;font-size:26.02px;line-height:26.02px;color:#475764;transform:scaleX(0.9511);transform-origin:0 0;">10:00 AM</div>
<div class="t " style="left:1991.57px;top:377.95px;font-size:22.38px;line-height:22.38px;color:#ffffff;transform:scaleX(1.0492);transform-origin:0 0;">No Stop At Interection</div>
<div class="t " style="left:2384.08px;top:377.95px;font-size:22.38px;line-height:22.38px;color:#ffffff;letter-spacing:-1.634px;transform:scaleX(0.9400);transform-origin:0 0;">19</div>
<div class="t " style="left:1992.68px;top:434.15px;font-size:22.38px;line-height:22.38px;color:#ffffff;transform:scaleX(1.0320);transform-origin:0 0;">Speeding</div>
<div class="t " style="left:2563.30px;top:434.15px;font-size:22.38px;line-height:22.38px;color:#ffffff;transform:scaleX(1.0462);transform-origin:0 0;">26</div>
<div class="t " style="left:1991.54px;top:490.35px;font-size:22.38px;line-height:22.38px;color:#ffffff;transform:scaleX(1.0643);transform-origin:0 0;">Piggybacking</div>
<div class="t " style="left:2223.25px;top:490.35px;font-size:22.38px;line-height:22.38px;color:#ffffff;">4</div>
<div class="t " style="left:1991.57px;top:546.15px;font-size:22.38px;line-height:22.38px;color:#ffffff;transform:scaleX(1.0482);transform-origin:0 0;">Blocked Exit  / Entrance</div>
<div class="t " style="left:2280.90px;top:546.15px;font-size:22.38px;line-height:22.38px;color:#ffffff;">5</div>
<div class="t " style="left:1991.57px;top:744.25px;font-size:22.38px;line-height:22.38px;color:#ffffff;transform:scaleX(1.0492);transform-origin:0 0;">No Stop At Interection</div>
<div class="t " style="left:2288.18px;top:744.25px;font-size:22.38px;line-height:22.38px;color:#ffffff;letter-spacing:-2.090px;transform:scaleX(0.9400);transform-origin:0 0;">10</div>
<div class="t " style="left:1992.68px;top:800.05px;font-size:22.38px;line-height:22.38px;color:#ffffff;transform:scaleX(1.0320);transform-origin:0 0;">Speeding</div>
<div class="t " style="left:2489.89px;top:800.05px;font-size:22.38px;line-height:22.38px;color:#ffffff;transform:scaleX(1.0592);transform-origin:0 0;">23</div>
<div class="t " style="left:1991.54px;top:855.95px;font-size:22.38px;line-height:22.38px;color:#ffffff;transform:scaleX(1.0643);transform-origin:0 0;">Piggybacking</div>
<div class="t " style="left:2154.90px;top:855.95px;font-size:22.38px;line-height:22.38px;color:#ffffff;">3</div>
<div class="t " style="left:1991.57px;top:912.15px;font-size:22.38px;line-height:22.38px;color:#ffffff;transform:scaleX(1.0482);transform-origin:0 0;">Blocked Exit  / Entrance</div>
<div class="t " style="left:2664.24px;top:912.15px;font-size:22.38px;line-height:22.38px;color:#ffffff;transform:scaleX(1.0152);transform-origin:0 0;">43</div>
<div class="t rc" style="left:1991.57px;top:1100.45px;font-size:22.38px;line-height:22.38px;color:#ffffff;transform:scaleX(1.0492);transform-origin:0 0;">No Stop At Interection</div>
<div class="t rc" style="left:2396.10px;top:1100.45px;font-size:22.38px;line-height:22.38px;color:#ffffff;transform:scaleX(1.0462);transform-origin:0 0;">23</div>
<div class="t " style="left:1974.89px;top:594.68px;font-size:26.02px;line-height:26.02px;color:#475764;transform:scaleX(1.0384);transform-origin:0 0;">Expand</div>
<div class="t " style="left:1974.89px;top:960.68px;font-size:26.02px;line-height:26.02px;color:#475764;transform:scaleX(1.0384);transform-origin:0 0;">Expand</div>
<div class="t " style="font-family:'DejaVu Sans', 'Liberation Sans', sans-serif;left:1973.74px;top:1211.93px;font-size:32.24px;line-height:32.24px;color:#0f2433;transform:scaleX(0.9471);transform-origin:0 0;-webkit-text-stroke:0.55px #0f2433;">By Location</div>
<div class="t " style="left:1974.69px;top:1272.80px;font-size:25.87px;line-height:25.87px;color:#475764;transform:scaleX(0.9464);transform-origin:0 0;">Door 12</div>
<div class="t " style="left:2703.89px;top:1273.80px;font-size:25.87px;line-height:25.87px;color:#1a2a36;letter-spacing:0.215px;transform:scaleX(1.1200);transform-origin:0 0;">320</div>
<div class="t " style="left:1974.51px;top:1333.20px;font-size:25.87px;line-height:25.87px;color:#475764;transform:scaleX(1.0329);transform-origin:0 0;">Dock 5</div>
<div class="t " style="left:2706.49px;top:1334.20px;font-size:25.87px;line-height:25.87px;color:#1a2a36;transform:scaleX(1.0805);transform-origin:0 0;">297</div>
<div class="t " style="left:1976.60px;top:1392.80px;font-size:25.87px;line-height:25.87px;color:#475764;transform:scaleX(1.0195);transform-origin:0 0;">Aisle 2</div>
<div class="t " style="left:2710.82px;top:1393.80px;font-size:25.87px;line-height:25.87px;color:#1a2a36;transform:scaleX(0.9778);transform-origin:0 0;">143</div>
<div class="t " style="left:1976.60px;top:1453.20px;font-size:25.87px;line-height:25.87px;color:#475764;transform:scaleX(0.9539);transform-origin:0 0;">Aisle 15</div>
<div class="t " style="left:2721.86px;top:1454.20px;font-size:25.87px;line-height:25.87px;color:#1a2a36;">1</div>
<div class="t " style="left:2730.26px;top:1454.20px;font-size:25.87px;line-height:25.87px;color:#1a2a36;">1</div>
<div class="t " style="left:2738.66px;top:1454.20px;font-size:25.87px;line-height:25.87px;color:#1a2a36;">1</div>
<div class="t " style="left:1976.60px;top:1512.80px;font-size:25.87px;line-height:25.87px;color:#475764;transform:scaleX(1.0142);transform-origin:0 0;">Aisle 4</div>
<div class="t " style="left:2720.44px;top:1513.80px;font-size:25.87px;line-height:25.87px;color:#1a2a36;letter-spacing:0.448px;transform:scaleX(1.1200);transform-origin:0 0;">96</div>
<div class="t " style="left:1974.50px;top:1572.80px;font-size:25.87px;line-height:25.87px;color:#475764;transform:scaleX(1.0381);transform-origin:0 0;">Dock 3</div>
<div class="t " style="left:2722.17px;top:1573.80px;font-size:25.87px;line-height:25.87px;color:#1a2a36;transform:scaleX(1.0759);transform-origin:0 0;">45</div>
<!-- masks -->
<div class="a" style="left:1854px;top:800px;width:72px;height:80px;background:#f3f4f6"></div>
<div class="a" style="left:1926px;top:1114px;width:882px;height:54px;background:#f3f4f6"></div>
</body></html>
